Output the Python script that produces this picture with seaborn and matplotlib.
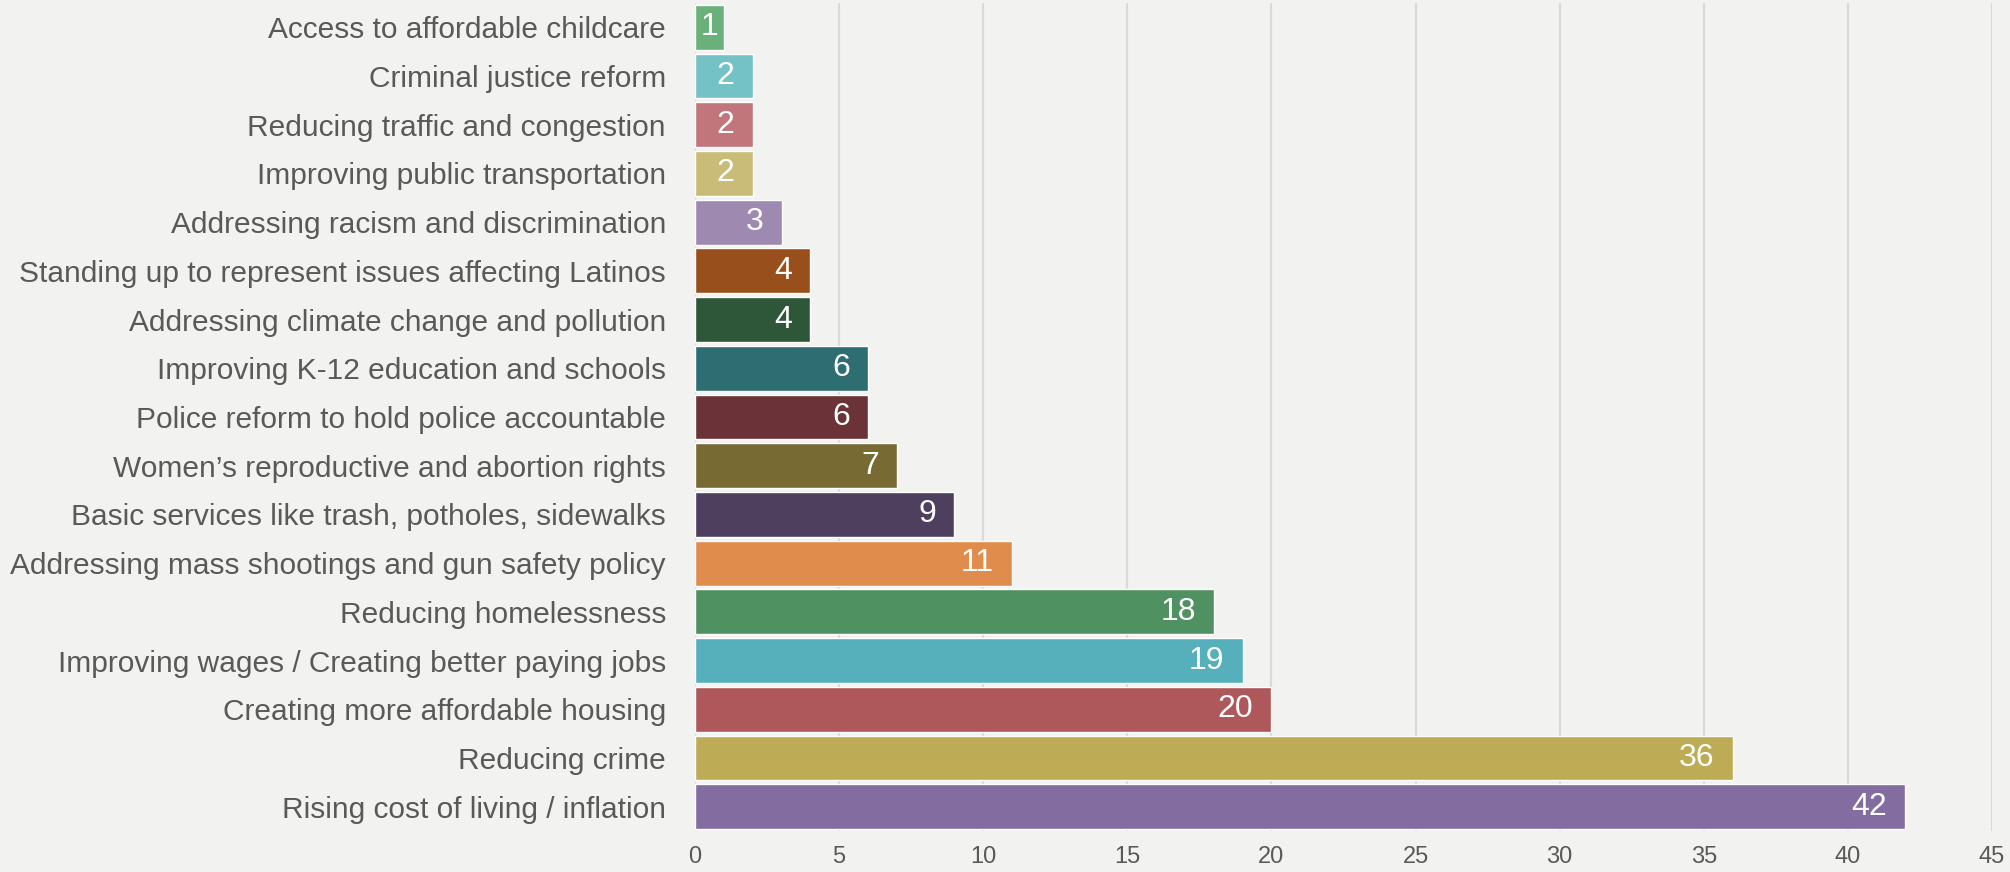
import matplotlib

matplotlib.use("Agg")

import matplotlib.pyplot as plt
import pandas as pd
import seaborn as sns


ISSUES = [
    "Access to affordable childcare",
    "Criminal justice reform",
    "Reducing traffic and congestion",
    "Improving public transportation",
    "Addressing racism and discrimination",
    "Standing up to represent issues affecting Latinos",
    "Addressing climate change and pollution",
    "Improving K-12 education and schools",
    "Police reform to hold police accountable",
    "Women\u2019s reproductive and abortion rights",
    "Basic services like trash, potholes, sidewalks",
    "Addressing mass shootings and gun safety policy",
    "Reducing homelessness",
    "Improving wages / Creating better paying jobs",
    "Creating more affordable housing",
    "Reducing crime",
    "Rising cost of living / inflation",
]
VALUES = [1, 2, 2, 2, 3, 4, 4, 6, 6, 7, 9, 11, 18, 19, 20, 36, 42]
COLORS = [
    "#69b07a", "#74c2c6", "#c0767a", "#c9bb78", "#9e8ab1", "#994f1b",
    "#2e5638", "#2e6e72", "#6b3238", "#776a32", "#4f3f5e", "#e08c4c",
    "#4f9161", "#55b0bb", "#af585c", "#bdab55", "#836ca0",
]
X_TICKS = [0, 5, 10, 15, 20, 25, 30, 35, 40, 45]

BG = "#f2f2f0"
TEXT = "#595959"


def main() -> None:
    sns.set_theme(style="white")
    plt.rcParams["font.family"] = ["Liberation Sans", "DejaVu Sans"]

    data = pd.DataFrame({"issue": ISSUES, "share": VALUES})

    fig = plt.figure(figsize=(20.1, 8.72), dpi=100, facecolor=BG)
    ax = fig.add_axes([0.3458, 0.047, 0.6452, 0.9496])
    ax.set_facecolor(BG)

    sns.barplot(
        data=data, y="issue", x="share", hue="issue", palette=COLORS,
        saturation=1, legend=False, orient="h", width=0.92,
        edgecolor="white", linewidth=1.0, ax=ax, zorder=3,
    )

    ax.set_xlim(0, 45)
    ax.set_xticks(X_TICKS)
    ax.set_xticklabels([str(t) for t in X_TICKS], fontsize=17, color=TEXT)
    ax.tick_params(axis="y", labelsize=21.5, labelcolor=TEXT, length=0, pad=21)
    ax.tick_params(axis="x", length=0, pad=11)
    ax.set_xlabel("")
    ax.set_ylabel("")
    ax.grid(axis="x", color="#d9d9d9", linewidth=1.5, zorder=0)
    ax.set_axisbelow(True)
    for spine in ax.spines.values():
        spine.set_visible(False)

    for container in ax.containers:
        texts = ax.bar_label(
            container, fmt="%d", label_type="edge", padding=-13,
            color="white", fontsize=23,
        )
        for text, value in zip(texts, container.datavalues):
            text.set_ha("right")
            if value < 2:
                text.xyann = (-4, 0)

    fig.savefig("out.png", dpi=100, facecolor=BG)
    plt.close(fig)


if __name__ == "__main__":
    main()
